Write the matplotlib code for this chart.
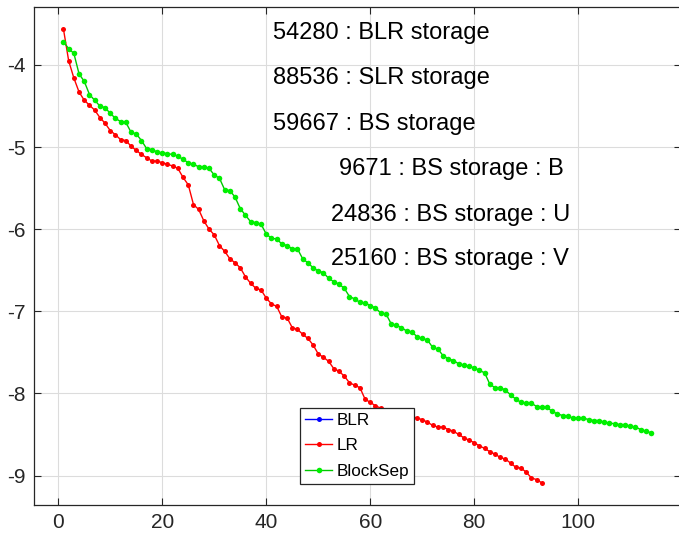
import matplotlib
matplotlib.use("Agg")
import matplotlib.pyplot as plt

plt.rcParams['font.family'] = ['Liberation Sans', 'DejaVu Sans']

# ---- data ----
lr_y = [-3.565, -3.95, -4.16, -4.33, -4.43, -4.49, -4.55, -4.64, -4.71, -4.80,
        -4.85, -4.91, -4.92, -4.99, -5.04, -5.09, -5.13, -5.17, -5.17, -5.19,
        -5.21, -5.23, -5.26, -5.37, -5.46, -5.70, -5.76, -5.90, -6.00, -6.07,
        -6.20, -6.27, -6.36, -6.41, -6.47, -6.58, -6.66, -6.72, -6.74, -6.84,
        -6.91, -6.94, -7.07, -7.08, -7.20, -7.22, -7.28, -7.33, -7.41, -7.52,
        -7.56, -7.61, -7.70, -7.73, -7.79, -7.87, -7.90, -7.93, -8.07, -8.11,
        -8.15, -8.18, -8.20, -8.21, -8.23, -8.25, -8.26, -8.28, -8.30, -8.32,
        -8.35, -8.39, -8.41, -8.41, -8.44, -8.46, -8.50, -8.54, -8.57, -8.60,
        -8.64, -8.67, -8.71, -8.74, -8.78, -8.80, -8.85, -8.90, -8.91, -8.96,
        -9.03, -9.05, -9.09]
lr_x = list(range(1, len(lr_y) + 1))

bs_y = [-3.72, -3.80, -3.86, -4.11, -4.20, -4.36, -4.43, -4.50, -4.52, -4.59,
        -4.65, -4.69, -4.70, -4.82, -4.84, -4.92, -5.02, -5.03, -5.06, -5.07,
        -5.08, -5.09, -5.11, -5.15, -5.19, -5.21, -5.24, -5.24, -5.26, -5.34,
        -5.38, -5.52, -5.53, -5.61, -5.75, -5.83, -5.91, -5.92, -5.94, -6.06,
        -6.11, -6.12, -6.18, -6.20, -6.24, -6.24, -6.36, -6.41, -6.47, -6.51,
        -6.53, -6.60, -6.64, -6.67, -6.72, -6.82, -6.85, -6.89, -6.90, -6.93,
        -6.96, -7.02, -7.03, -7.15, -7.17, -7.20, -7.24, -7.25, -7.31, -7.33,
        -7.35, -7.44, -7.46, -7.54, -7.58, -7.60, -7.64, -7.66, -7.67, -7.69,
        -7.72, -7.75, -7.89, -7.93, -7.93, -7.96, -8.02, -8.07, -8.11, -8.12,
        -8.12, -8.16, -8.17, -8.17, -8.22, -8.25, -8.27, -8.28, -8.30, -8.30,
        -8.30, -8.32, -8.33, -8.33, -8.35, -8.36, -8.37, -8.38, -8.38, -8.40,
        -8.41, -8.44, -8.46, -8.48]
bs_x = list(range(1, len(bs_y) + 1))

# BLR series is empty in the chart (legend entry only)
blr_x = []
blr_y = []

series_labels = ["BLR", "LR", "BlockSep"]
annotations = ["54280 : BLR storage", "88536 : SLR storage", "59667 : BS storage",
               "9671 : BS storage : B", "24836 : BS storage : U", "25160 : BS storage : V"]
x_ticks = [0, 20, 40, 60, 80, 100]
y_ticks = [-9, -8, -7, -6, -5, -4]

# ---- figure ----
fig = plt.figure(figsize=(6.79, 5.38), dpi=100)
ax = fig.add_axes([34 / 679, 33 / 538, 647 / 679, 498 / 538])

dark = '#262626'
ax.plot(blr_x, blr_y, '-', color='#0000ff', marker='o', markersize=3.6, lw=1.0,
        markeredgewidth=0, label=series_labels[0])
ax.plot(lr_x, lr_y, '-', color='#ff0000', marker='o', markersize=3.6, lw=1.0,
        markeredgewidth=0, label=series_labels[1])
ax.plot(bs_x, bs_y, '-', color='#00c800', marker='o', markersize=4.0, lw=1.0,
        markerfacecolor='#00f000', markeredgewidth=0, label=series_labels[2])

ax.set_xlim(-4.67, 119.75)
ax.set_ylim(-9.359, -3.294)
ax.set_xticks(x_ticks)
ax.set_yticks(y_ticks)
ax.set_xticklabels([str(v) for v in x_ticks])
ax.set_yticklabels([str(v) for v in y_ticks])
ax.grid(True, color='#dcdcdc', linewidth=0.8)
ax.set_axisbelow(True)
ax.tick_params(direction='in', length=5, width=0.8, colors=dark, labelsize=15,
               top=True, right=True, pad=6)
for s in ax.spines.values():
    s.set_color(dark)
    s.set_linewidth(0.9)

# text annotations
text_pos = [(41.3, -3.605), (41.3, -4.154), (41.3, -4.715),
            (54.0, -5.264), (52.4, -5.825), (52.4, -6.36)]
for (tx, ty), s in zip(text_pos, annotations):
    ax.text(tx, ty, s, fontsize=17, ha='left', va='center', color='black')

leg = ax.legend(loc='upper left', bbox_to_anchor=(0.411, 0.195), fontsize=12.3,
                handlelength=1.6, handletextpad=0.25, borderpad=0.3,
                labelspacing=0.6, borderaxespad=0, fancybox=False,
                framealpha=1, edgecolor=dark)
leg.get_frame().set_linewidth(0.9)

fig.savefig('out.png', dpi=100)
